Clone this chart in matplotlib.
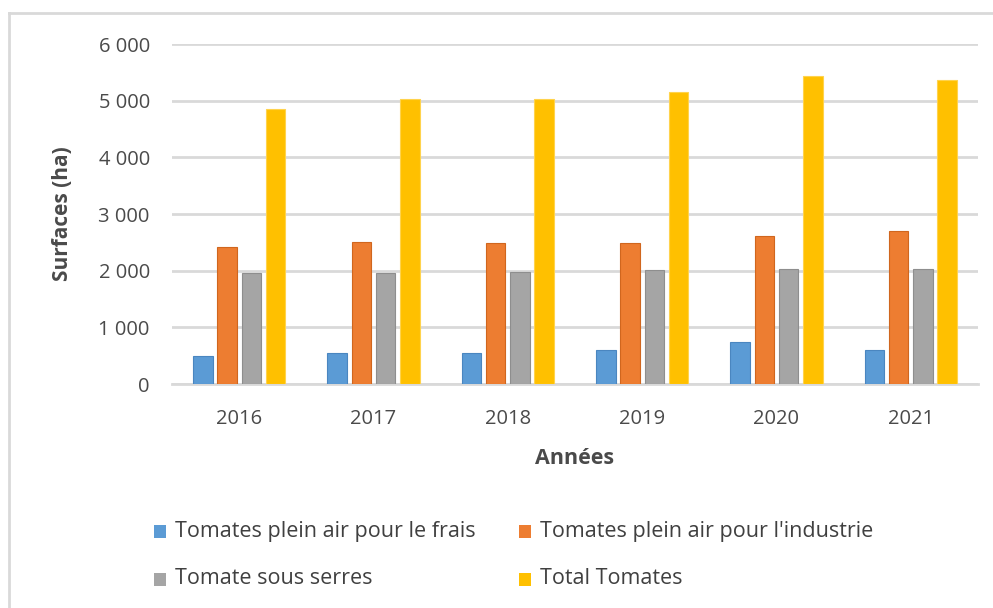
import matplotlib
matplotlib.use("Agg")
import matplotlib.pyplot as plt
import numpy as np
from matplotlib.ticker import FuncFormatter
from matplotlib.lines import Line2D

years = ["2016", "2017", "2018", "2019", "2020", "2021"]
frais = [495, 540, 540, 600, 745, 600]
industrie = [2425, 2510, 2495, 2485, 2605, 2700]
serres = [1955, 1955, 1975, 2020, 2035, 2035]
total = [4850, 5030, 5030, 5155, 5430, 5360]

series = [
    ("Tomates plein air pour le frais", frais, "#5B9BD5", "#4A86C0"),
    ("Tomates plein air pour l'industrie", industrie, "#ED7D31", "#D0661E"),
    ("Tomate sous serres", serres, "#A5A5A5", "#8E8E8E"),
    ("Total Tomates", total, "#FFC000", "#FFD34D"),
]

plt.rcParams['font.family'] = ['Open Sans', 'DejaVu Sans']
txt = "#4a4a4a"

fig = plt.figure(figsize=(9.93, 6.08), dpi=100)
W, H = 993, 608
ax = fig.add_axes([172 / W, 1 - 384 / H, (978 - 172) / W, (384 - 44) / H])

x = np.arange(len(years))
step = 0.181
width = 0.146
for i, (name, vals, col, ec) in enumerate(series):
    ax.bar(x + (i - 1.5) * step, vals, width=width, color=col, edgecolor=ec,
           linewidth=0.8, label=name, zorder=3)

ax.set_xlim(-0.5, len(years) - 0.5)
ax.set_ylim(0, 6000)
ax.set_yticks(np.arange(0, 6001, 1000))
ax.yaxis.set_major_formatter(FuncFormatter(lambda v, p: f"{int(v):,}".replace(",", " ")))
ax.set_xticks(x)
ax.set_xticklabels(years)
ax.grid(axis='y', color='#d9d9d9', linewidth=2, zorder=0)
ax.tick_params(length=0, labelsize=14.5, colors=txt)
ax.tick_params(axis='x', pad=18)
ax.tick_params(axis='y', pad=16)
for s in ['top', 'right', 'left']:
    ax.spines[s].set_visible(False)
ax.spines['bottom'].set_color('#d9d9d9')
ax.spines['bottom'].set_linewidth(2)
ax.spines['bottom'].set_zorder(1)

fig.text(62 / W, 1 - 214 / H, "Surfaces (ha)", rotation=90, ha='center', va='center',
         fontsize=15, fontweight='bold', color=txt)
fig.text(575 / W, 1 - 458 / H, "Années", ha='center', va='center',
         fontsize=15.5, fontweight='bold', color=txt)

# legend
rows = [(531, 0), (531, 1), (579, 0), (579, 1)]
mx = [154, 519]
tx = [175, 540]
for (yy, c), (name, vals, col, ec) in zip(rows, series):
    fig.patches.append(matplotlib.patches.Rectangle(
        (mx[c] / W, 1 - (yy + 7) / H), 12 / W, 13 / H, transform=fig.transFigure,
        facecolor=col, edgecolor='none', figure=fig))
    fig.text(tx[c] / W, 1 - yy / H, name, ha='left', va='center',
             fontsize=15.5, color="#404040")

# border
fig.add_artist(Line2D([9 / W, 9 / W], [0, 1 - 13 / H], transform=fig.transFigure,
                      color='#d9d9d9', linewidth=2))
fig.add_artist(Line2D([9 / W, 1], [1 - 13 / H, 1 - 13 / H], transform=fig.transFigure,
                      color='#d9d9d9', linewidth=2))

fig.savefig("out.png", dpi=100)
